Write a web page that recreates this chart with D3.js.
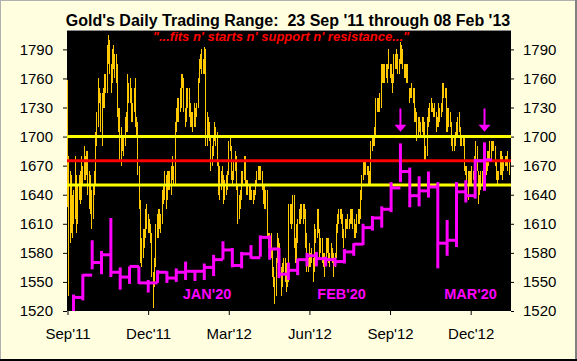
<!DOCTYPE html>
<html>
<head>
<meta charset="utf-8">
<script src="https://cdn.jsdelivr.net/npm/d3@7/dist/d3.min.js"></script>
<style>
  html, body { margin: 0; padding: 0; background: #FFFFE0; }
  svg { display: block; font-family: "Liberation Sans", Arial, sans-serif; }
</style>
</head>
<body>
<svg id="chart" width="577" height="361"></svg>
<script>
// ---------- DATA ----------
const title = "Gold's Daily Trading Range:  23 Sep '11 through 08 Feb '13";
const subtitle = "\"...fits n' starts n' support n' resistance...\"";

const yTicks = [1520, 1550, 1580, 1610, 1640, 1670, 1700, 1730, 1760, 1790];
const xTickIdx = [0, 63, 126, 189, 252, 315];
const xTickLabels = ["Sep'11", "Dec'11", "Mar'12", "Jun'12", "Sep'12", "Dec'12"];

// daily highs / lows (trading-day index 0 = 23 Sep '11 ... 345 = 08 Feb '13)
const goldHigh = [
1758,1680,1665,1660,1640,1645,1680,1660,1650,1660,1665,1680,1670,1690,1680,1685,1685,1665,1660,1645,
1650,1665,1705,1725,1760,1750,1745,1745,1750,1765,1765,1795,1805,1800,1775,1790,1795,1785,1785,1775,
1730,1730,1710,1700,1700,1720,1725,1765,1755,1760,1750,1735,1750,1760,1720,1715,1670,1635,1595,1605,
1605,1625,1630,1620,1615,1610,1600,1560,1575,1610,1620,1625,1625,1620,1645,1650,1665,1660,1665,1665,
1665,1670,1680,1670,1715,1730,1740,1740,1750,1765,1765,1760,1730,1750,1750,1750,1735,1725,1725,1735,
1730,1735,1760,1780,1785,1790,1780,1792,1790,1725,1720,1715,1700,1690,1700,1715,1710,1705,1675,1670,
1665,1670,1660,1655,1660,1665,1695,1700,1690,1665,1675,1685,1680,1650,1640,1645,1665,1665,1680,1680,
1655,1655,1650,1650,1645,1645,1645,1655,1665,1670,1670,1670,1665,1650,1650,1645,1645,1600,1600,1600,
1585,1565,1555,1575,1600,1595,1590,1565,1570,1575,1575,1570,1565,1630,1630,1630,1640,1640,1595,1610,
1615,1625,1630,1630,1630,1630,1625,1600,1575,1590,1580,1585,1575,1610,1605,1625,1625,1605,1595,1595,
1580,1580,1595,1595,1595,1580,1590,1585,1580,1580,1610,1620,1625,1625,1625,1620,1605,1615,1615,1620,
1615,1625,1625,1625,1615,1610,1620,1625,1625,1645,1660,1675,1675,1675,1670,1670,1665,1695,1700,1700,
1710,1740,1740,1740,1745,1775,1775,1775,1775,1775,1775,1790,1775,1775,1765,1785,1785,1790,1785,1780,
1798,1795,1790,1775,1775,1775,1775,1750,1750,1755,1750,1750,1730,1725,1720,1720,1715,1720,1720,1715,
1690,1720,1730,1735,1740,1735,1730,1735,1725,1720,1735,1730,1735,1755,1755,1750,1750,1730,1730,1725,
1715,1700,1700,1705,1715,1720,1725,1710,1700,1700,1700,1670,1670,1665,1665,1665,1670,1665,1680,1695,
1690,1665,1660,1665,1665,1680,1680,1675,1685,1685,1695,1695,1695,1695,1690,1675,1665,1665,1685,1685,
1680,1675,1680,1680,1685,1675
];
const goldLow = [
1627,1535,1590,1600,1595,1610,1615,1600,1610,1635,1630,1635,1650,1655,1655,1660,1640,1625,1620,1605,
1615,1640,1650,1690,1710,1735,1705,1690,1730,1730,1745,1745,1775,1765,1745,1755,1770,1760,1755,1720,
1705,1675,1670,1685,1680,1690,1705,1705,1735,1735,1715,1715,1725,1710,1700,1660,1625,1570,1565,1575,
1585,1595,1605,1600,1600,1590,1555,1523,1545,1565,1595,1595,1605,1600,1610,1630,1635,1625,1635,1645,
1645,1640,1655,1650,1650,1705,1715,1715,1725,1730,1750,1725,1710,1715,1730,1720,1710,1710,1705,1710,
1710,1720,1730,1755,1770,1765,1765,1765,1690,1690,1700,1695,1665,1670,1680,1695,1690,1670,1640,1635,
1645,1650,1630,1635,1640,1645,1660,1685,1655,1650,1655,1665,1645,1610,1615,1625,1635,1650,1655,1650,
1640,1640,1635,1635,1635,1630,1635,1640,1650,1655,1655,1655,1645,1630,1625,1625,1595,1585,1580,1575,
1555,1545,1527,1535,1570,1575,1555,1535,1545,1560,1550,1540,1545,1550,1610,1605,1610,1585,1570,1570,
1590,1610,1610,1615,1610,1615,1585,1560,1560,1565,1565,1570,1550,1560,1590,1595,1600,1575,1580,1570,
1565,1555,1570,1580,1570,1565,1575,1570,1555,1565,1575,1600,1610,1615,1610,1595,1585,1595,1605,1605,
1605,1610,1610,1605,1595,1595,1600,1610,1610,1615,1635,1655,1660,1660,1660,1650,1650,1650,1685,1690,
1690,1700,1725,1725,1725,1730,1755,1755,1755,1760,1755,1770,1760,1755,1745,1755,1770,1770,1765,1765,
1775,1775,1770,1760,1760,1755,1755,1735,1740,1740,1735,1715,1715,1695,1700,1705,1700,1705,1700,1675,
1675,1680,1710,1715,1725,1725,1720,1720,1705,1710,1710,1715,1720,1725,1740,1740,1705,1705,1710,1710,
1690,1685,1685,1690,1700,1700,1705,1690,1690,1690,1665,1660,1640,1635,1650,1650,1650,1655,1655,1670,
1665,1630,1640,1645,1650,1650,1655,1660,1665,1670,1675,1675,1685,1685,1670,1655,1650,1655,1660,1660,
1655,1665,1670,1670,1665,1660
];

// horizontal reference levels
const resistance = 1700, pivot = 1675, support = 1650;

// magenta step series (45 steps): bar low, bar high, step level
const stepLow = [1520,1531,1563,1558,1555,1542,1548,1548,1539,1549,1549,1550,1552,1551,1552,1556,1573,1565,1564,1574,
                 1576,1573,1554,1552,1557,1566,1566,1566,1566,1569,1577,1588,1603,1606,1622,1653,1627,1628,1637,1564,
                 1577,1586,1632,1636,1644];
const stepHigh = [1537,1558,1593,1582,1616,1565,1566,1566,1552,1562,1561,1564,1571,1562,1569,1578,1592,1585,1581,1588,
                  1598,1598,1585,1570,1574,1580,1581,1576,1575,1584,1590,1610,1618,1628,1653,1693,1668,1659,1664,1653,
                  1614,1653,1655,1677,1694];
const stepLevel = [1534,1557,1570,1578,1560,1555,1566,1549,1549,1560,1554,1560,1561,1561,1565,1573,1583,1567,1579,1575,
                   1596,1584,1558,1562,1573,1577,1574,1573,1571,1581,1589,1606,1616,1625,1647,1664,1639,1644,1648,1590,
                   1593,1643,1639,1675,1676];
const stepLabels = ["JAN'20", "FEB'20", "MAR'20"];
const stepLabelPos = [14.3, 28.7, 42.5];   // in step units
const stepLabelLevel = 1532;
// down arrows: at step index, from value top to tip
const arrowSteps = [35, 44];
const arrowTop = 1729, arrowTip = 1705;

// ---------- DRAW ----------
const svg = d3.select("#chart");
const W = 577, H = 361;
const L = 67, R = 511, T = 30, B = 311;

const x = d3.scaleLinear().domain([0, 346.5]).range([67.5, 511]);
const y = d3.scaleLinear().domain([1520, 1810]).range([B, T]);
const sx = d3.scaleLinear().domain([0, 44]).range([73.5, 484.5]);

// background + frame
svg.append("rect").attr("x", 0).attr("y", 0).attr("width", W).attr("height", H).attr("fill", "#FFFFE0");
svg.append("line").attr("x1", 0).attr("x2", W).attr("y1", 0.5).attr("y2", 0.5).attr("stroke", "#B0B0B0");
svg.append("line").attr("x1", 0.5).attr("x2", 0.5).attr("y1", 0).attr("y2", H).attr("stroke", "#B0B0B0");
svg.append("line").attr("x1", W - 1).attr("x2", W - 1).attr("y1", 0).attr("y2", H).attr("stroke", "#808080").attr("stroke-width", 2);
svg.append("line").attr("x1", 0).attr("x2", W).attr("y1", H - 1).attr("y2", H - 1).attr("stroke", "#000").attr("stroke-width", 2);

// plot area
svg.append("rect").attr("x", L).attr("y", T).attr("width", R - L).attr("height", B - T).attr("fill", "#000");
svg.append("line").attr("x1", L).attr("x2", R).attr("y1", T + 0.5).attr("y2", T + 0.5).attr("stroke", "#8C8C8C");

// title
svg.append("text").attr("x", 288).attr("y", 25.5).attr("text-anchor", "middle")
  .style("white-space", "pre").attr("font-size", 16).attr("font-weight", "bold").attr("fill", "#000")
  .text(title);

// gold daily bars
const idx = d3.range(goldHigh.length);
svg.append("g").attr("shape-rendering", "crispEdges").selectAll("line").data(idx).join("line")
  .attr("x1", i => x(i)).attr("x2", i => x(i))
  .attr("y1", i => y(goldHigh[i])).attr("y2", i => y(goldLow[i]))
  .attr("stroke", "#FFC800").attr("stroke-width", 1);

// reference lines
[[resistance, "#FFFF00"], [support, "#FFFF00"], [pivot, "#FF0000"]].forEach(([v, c]) => {
  svg.append("line").attr("x1", L).attr("x2", R).attr("y1", y(v)).attr("y2", y(v))
    .attr("stroke", c).attr("stroke-width", 3);
});

// magenta step series
const mg = svg.append("g").attr("stroke", "#FF00FF").attr("stroke-width", 3).attr("fill", "none");
const steps = d3.range(stepLow.length);
mg.selectAll("line.v").data(steps).join("line").attr("class", "v")
  .attr("x1", k => sx(k)).attr("x2", k => sx(k))
  .attr("y1", k => y(stepHigh[k])).attr("y2", k => y(stepLow[k]));
mg.selectAll("line.h").data(steps).join("line").attr("class", "h")
  .attr("x1", k => sx(k)).attr("x2", k => sx(k < steps.length - 1 ? k + 1 : k + 0.8))
  .attr("y1", k => y(stepLevel[k])).attr("y2", k => y(stepLevel[k]));

// arrows
arrowSteps.forEach(k => {
  const ax = sx(k), head = 7;
  svg.append("line").attr("x1", ax).attr("x2", ax).attr("y1", y(arrowTop)).attr("y2", y(arrowTip) - head + 1)
    .attr("stroke", "#FF00FF").attr("stroke-width", 2);
  svg.append("path")
    .attr("d", `M${ax - 6},${y(arrowTip) - head} L${ax + 6},${y(arrowTip) - head} L${ax},${y(arrowTip)} Z`)
    .attr("fill", "#FF00FF");
});

// magenta labels
stepLabels.forEach((t, j) => {
  svg.append("text").attr("x", sx(stepLabelPos[j])).attr("y", y(stepLabelLevel)).attr("text-anchor", "middle")
    .attr("font-size", 14.5).attr("font-weight", "bold").attr("fill", "#FF00FF").text(t);
});

// subtitle
svg.append("text").attr("x", 281).attr("y", 41).attr("text-anchor", "middle")
  .attr("font-size", 13).attr("font-weight", "bold").attr("font-style", "italic").attr("fill", "#FF0000")
  .text(subtitle);

// axes
const axL = d3.axisLeft(y).tickValues(yTicks).tickSize(4).tickPadding(10).tickFormat(d3.format("d"));
const axR = d3.axisRight(y).tickValues(yTicks).tickSize(3).tickPadding(9).tickFormat(d3.format("d"));
const axB = d3.axisBottom(x).tickValues(xTickIdx).tickSize(4).tickPadding(13)
  .tickFormat((d, i) => xTickLabels[i]);

function styleAxis(g) {
  g.select(".domain").remove();
  g.selectAll(".tick line").attr("stroke", "#000");
  g.selectAll(".tick text").attr("fill", "#000").attr("font-size", 15)
    .attr("font-family", "'Liberation Sans', Arial, sans-serif");
}
svg.append("g").attr("transform", `translate(${L},0)`).call(axL).call(styleAxis);
svg.append("g").attr("transform", `translate(${R},0)`).call(axR).call(styleAxis);
svg.append("g").attr("transform", `translate(0,${B})`).call(axB).call(styleAxis);
</script>
</body>
</html>
